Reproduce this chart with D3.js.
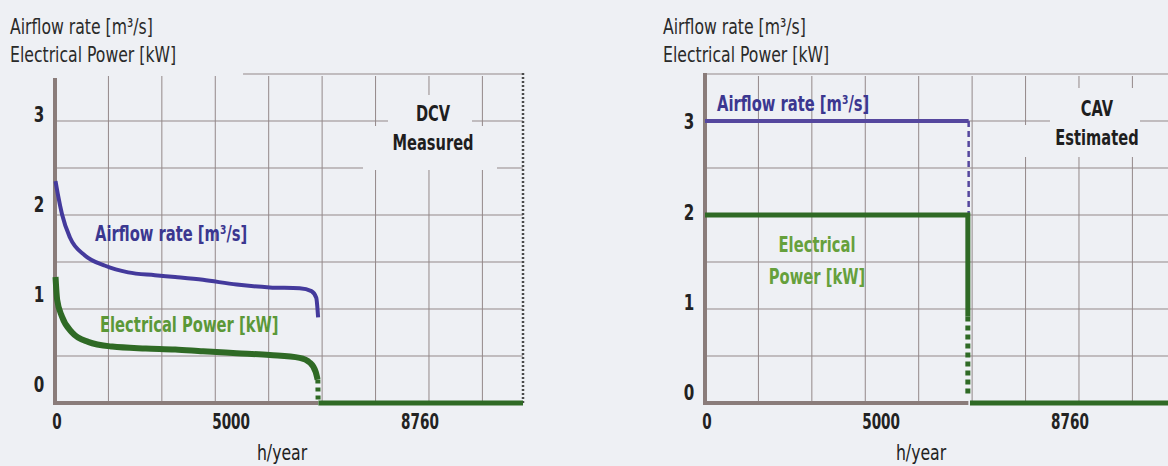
<!DOCTYPE html>
<html>
<head>
<meta charset="utf-8">
<script src="https://cdn.jsdelivr.net/npm/d3@7"></script>
<style>
  body { margin: 0; background: #eef0f4; }
  svg { display: block; }
  text { font-family: "Liberation Sans Narrow", "DejaVu Sans Condensed", "Roboto Condensed", sans-serif; }
</style>
</head>
<body>
<div id="chart"></div>
<script>

const width = 1168
const height = 466

// duration curves, [hours per year, value]
const airflowDCV = [[10, 2.36], [60, 2.2], [130, 2.01], [280, 1.76], [560, 1.57], [940, 1.46], [1370, 1.39], [1870, 1.36], [2250, 1.34], [2770, 1.31], [3400, 1.26], [4020, 1.23], [4580, 1.22], [4800, 1.19], [4890, 1.12], [4925, 0.91]]
const powerDCV = [[10, 1.34], [40, 1.10], [130, 0.92], [320, 0.75], [620, 0.65], [1070, 0.60], [1700, 0.58], [2250, 0.57], [2770, 0.55], [3400, 0.53], [4020, 0.51], [4580, 0.48], [4770, 0.43], [4880, 0.33], [4915, 0.25]]
const powerDCVdrop = [[4920, 0.25], [4925, 0]]
const offDCV = [[4930, 0], [8760, 0]]

const airflowCAV = [[0, 3], [4935, 3]]
const airflowCAVdrop = [[4935, 3], [4935, 2]]
const powerCAV = [[0, 2], [4920, 2], [4920, 0.92]]
const powerCAVdrop = [[4920, 0.92], [4920, 0.07]]
const offCAV = [[4960, 0], [8760, 0]]

const gridHours = [1000, 2000, 3000, 4000, 5000, 6000, 7000, 8000]
const gridValues = [0.5, 1, 1.5, 2, 2.5, 3]
const yTicks = [0, 1, 2, 3]
const xTicks = [0, 5000, 8760]
const yTitles = ["Airflow rate [m³/s]", "Electrical Power [kW]"]

const purple = "#443a9c"
const green = "#2f6a25"
const gridColor = "#938889"
const axisColor = "#8a7c7a"
const bg = "#eef0f4"

const svg = d3.select("#chart")
    .append("svg")
    .attr("width", width)
    .attr("height", height)

const y = d3.scaleLinear().domain([0, 3]).range([403, 121])
const line = (x) => d3.line().x(d => x(d[0])).y(d => y(d[1]))

// the scan uses a very condensed face, so squeeze the text sideways
function label(sel, x, y, sx) {
    return sel.attr("transform", (d, i) => {
            const px = typeof x === "function" ? x(d, i) : x
            const py = typeof y === "function" ? y(d, i) : y
            return "translate(" + px + "," + py + ") scale(" + sx + ",1)"
        })
        .attr("dy", "0.35em")
}

function panel(opt) {
    const x = d3.scaleLinear().domain([0, 8760]).range([opt.left, opt.left + 468])
    const g = svg.append("g")

    // horizontal grid
    g.selectAll(".hgrid")
        .data(gridValues)
        .enter()
        .append("line")
        .attr("x1", x(0)).attr("x2", Math.min(x(8760), width))
        .attr("y1", d => y(d)).attr("y2", d => y(d))
        .attr("stroke", gridColor).attr("stroke-width", 1)
    // top line (3.5)
    g.append("line")
        .attr("x1", x(opt.topFrom)).attr("x2", Math.min(x(8760), width))
        .attr("y1", y(3.5)).attr("y2", y(3.5))
        .attr("stroke", gridColor).attr("stroke-width", 1)

    // vertical grid
    g.selectAll(".vgrid")
        .data(gridHours)
        .enter()
        .append("line")
        .attr("x1", d => x(d)).attr("x2", d => x(d))
        .attr("y1", y(3.5) + 2).attr("y2", y(0))
        .attr("stroke", gridColor).attr("stroke-width", 1)

    // gaps in the grid behind the case label
    opt.masks.forEach(m => {
        g.append("rect")
            .attr("x", m[0]).attr("y", m[1]).attr("width", m[2]).attr("height", m[3])
            .attr("fill", bg)
    })

    // axes
    g.append("line")
        .attr("x1", x(0)).attr("x2", x(0))
        .attr("y1", opt.axisTop).attr("y2", y(0) + 2)
        .attr("stroke", axisColor).attr("stroke-width", 4)
    g.append("line")
        .attr("x1", x(0)).attr("x2", x(opt.axisEnd))
        .attr("y1", y(0)).attr("y2", y(0))
        .attr("stroke", axisColor).attr("stroke-width", 4)

    // tick labels
    const yLab = d3.scaleLinear().domain([0, 3]).range(opt.yLabelRange)
    label(g.selectAll(".ylab")
        .data(yTicks)
        .enter()
        .append("text"), x(0) - 16, d => yLab(d), 0.8)
        .attr("text-anchor", "middle")
        .attr("font-size", 21)
        .attr("font-weight", "bold")
        .attr("fill", "#222")
        .text(d => d)

    const shift = {0: -2, 5000: 91, 8760: 103}
    label(g.selectAll(".xlab")
        .data(xTicks)
        .enter()
        .append("text"), d => x(d) - shift[d], 422, 0.72)
        .attr("text-anchor", "middle")
        .attr("font-size", 21)
        .attr("font-weight", "bold")
        .attr("fill", "#222")
        .text(d => d)

    label(g.append("text"), opt.hLabel, 453, 0.83)
        .attr("text-anchor", "middle")
        .attr("font-size", 21)
        .attr("fill", "#222")
        .text("h/year")

    label(g.selectAll(".ytitle")
        .data(yTitles)
        .enter()
        .append("text"), opt.titleX, (d, i) => 27 + i * 28, 0.83)
        .attr("font-size", 21)
        .attr("fill", "#2a2a2a")
        .text(d => d)

    // case label
    label(g.selectAll(".case")
        .data(opt.caseLabel)
        .enter()
        .append("text"), opt.caseX, (d, i) => opt.caseY + i * 29, 0.74)
        .attr("text-anchor", "middle")
        .attr("font-size", 22)
        .attr("font-weight", "bold")
        .attr("fill", "#1e1e1e")
        .text(d => d)

    return {g, x}
}

// ---- left: DCV measured
const left = panel({
    left: 55, topFrom: 3520, axisTop: 78, axisEnd: 4925,
    yLabelRange: [385, 115], hLabel: 282, titleX: 10,
    caseLabel: ["DCV", "Measured"], caseX: 433, caseY: 113,
    masks: [[388, 95, 84, 65], [363, 126, 134, 44]]
})

// end of year, dotted
left.g.append("line")
    .attr("x1", left.x(8760)).attr("x2", left.x(8760))
    .attr("y1", y(3.5) - 1).attr("y2", y(0))
    .attr("stroke", "#4a4a4a").attr("stroke-width", 2.5)
    .attr("stroke-dasharray", "2,2")

left.g.append("path")
    .attr("d", line(left.x).curve(d3.curveMonotoneX)(airflowDCV))
    .attr("fill", "none").attr("stroke", purple).attr("stroke-width", 4)
left.g.append("path")
    .attr("d", line(left.x).curve(d3.curveMonotoneX)(powerDCV))
    .attr("fill", "none").attr("stroke", green).attr("stroke-width", 6)
left.g.append("path")
    .attr("d", line(left.x)(powerDCVdrop))
    .attr("fill", "none").attr("stroke", green).attr("stroke-width", 5)
    .attr("stroke-dasharray", "4,4")
left.g.append("path")
    .attr("d", line(left.x)(offDCV))
    .attr("fill", "none").attr("stroke", green).attr("stroke-width", 5)

label(left.g.append("text"), 95, 234, 0.78)
    .attr("font-size", 21).attr("font-weight", "bold")
    .attr("fill", "#3b3790")
    .text("Airflow rate [m³/s]")
label(left.g.append("text"), 100, 325, 0.78)
    .attr("font-size", 21).attr("font-weight", "bold")
    .attr("fill", "#5b9838")
    .text("Electrical Power [kW]")

// ---- right: CAV estimated
const right = panel({
    left: 705, topFrom: 0, axisTop: 73, axisEnd: 4930,
    yLabelRange: [393, 122], hLabel: 921, titleX: 663,
    caseLabel: ["CAV", "Estimated"], caseX: 1097, caseY: 108,
    masks: [[1050, 88, 90, 69], [1020, 125, 30, 32]]
})

right.g.append("path")
    .attr("d", line(right.x)(airflowCAV))
    .attr("fill", "none").attr("stroke", "#55479e").attr("stroke-width", 4)
right.g.append("path")
    .attr("d", line(right.x)(airflowCAVdrop))
    .attr("fill", "none").attr("stroke", "#55479e").attr("stroke-width", 2.5)
    .attr("stroke-dasharray", "6,4")
right.g.append("path")
    .attr("d", line(right.x)(powerCAV))
    .attr("fill", "none").attr("stroke", green).attr("stroke-width", 5)
right.g.append("path")
    .attr("d", line(right.x)(powerCAVdrop))
    .attr("fill", "none").attr("stroke", green).attr("stroke-width", 5)
    .attr("stroke-dasharray", "5,4")
right.g.append("path")
    .attr("d", line(right.x)(offCAV))
    .attr("fill", "none").attr("stroke", green).attr("stroke-width", 5)

label(right.g.append("text"), 717, 104, 0.78)
    .attr("font-size", 21).attr("font-weight", "bold")
    .attr("fill", "#3b3790")
    .text("Airflow rate [m³/s]")
label(right.g.selectAll(".elab")
    .data(["Electrical", "Power [kW]"])
    .enter()
    .append("text"), 817, (d, i) => 245 + i * 32, 0.78)
    .attr("text-anchor", "middle")
    .attr("font-size", 21).attr("font-weight", "bold")
    .attr("fill", "#66a03c")
    .text(d => d)

</script>
</body>
</html>
